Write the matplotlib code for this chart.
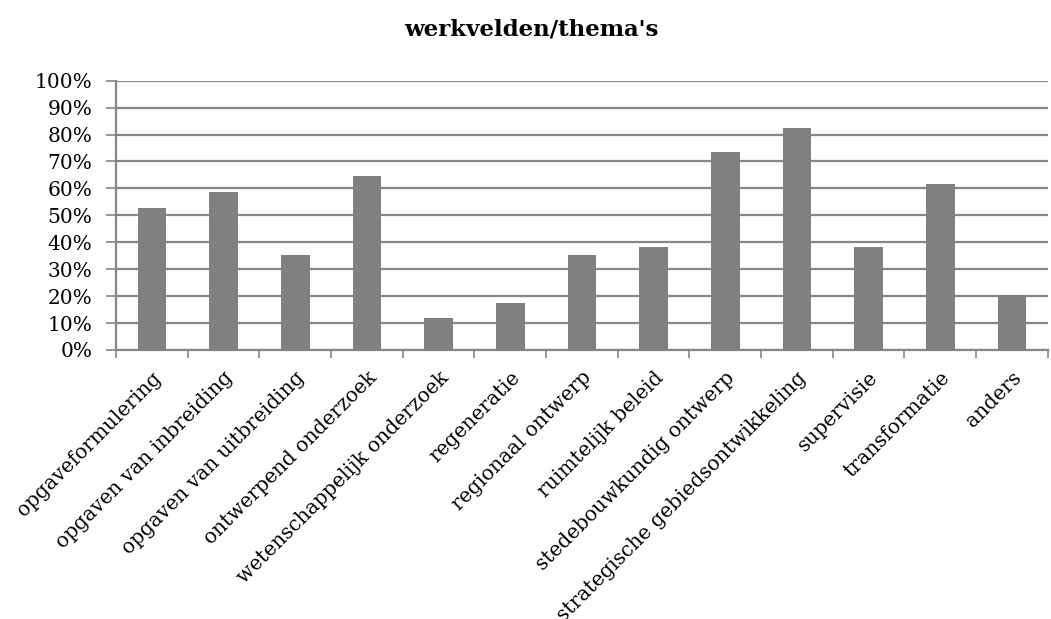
import matplotlib
matplotlib.use("Agg")
import matplotlib.pyplot as plt
import numpy as np

categories = ["opgaveformulering", "opgaven van inbreiding", "opgaven van uitbreiding",
              "ontwerpend onderzoek", "wetenschappelijk onderzoek", "regeneratie",
              "regionaal ontwerp", "ruimtelijk beleid", "stedebouwkundig ontwerp",
              "strategische gebiedsontwikkeling", "supervisie", "transformatie", "anders"]
values = [0.529, 0.588, 0.353, 0.647, 0.118, 0.176, 0.353, 0.382, 0.735, 0.824, 0.382, 0.618, 0.206]
yticks = np.arange(0, 1.01, 0.1)
ytick_labels = ["0%", "10%", "20%", "30%", "40%", "50%", "60%", "70%", "80%", "90%", "100%"]

plt.rcParams["font.family"] = ["DejaVu Serif"]

fig = plt.figure(figsize=(10.51, 6.19), dpi=100)
ax = fig.add_axes([0.1104, 0.4346, 0.8866, 0.435])

grey = "#878787"
x = np.arange(len(categories))
ax.bar(x, values, width=0.4, color="#808080", zorder=3)

ax.set_xlim(-0.5, len(categories) - 0.5)
ax.set_ylim(0, 1)
ax.set_yticks(yticks)
ax.set_yticklabels(ytick_labels, fontsize=14.5)
ax.yaxis.grid(True, color=grey, linewidth=1.6, zorder=0)
ax.set_axisbelow(True)

ax.set_xticks(x)
ax.set_xticklabels(categories, fontsize=14.5, rotation=45, ha="right", va="top",
                   rotation_mode="anchor")
ax.tick_params(axis="x", which="major", length=0, pad=13)
ax.set_xticks(np.arange(-0.5, len(categories), 1), minor=True)
ax.tick_params(axis="x", which="minor", length=6, width=1.2, color=grey, direction="out")
ax.tick_params(axis="y", length=7, width=1.2, color=grey, pad=10)

for side in ["top", "right"]:
    ax.spines[side].set_visible(False)
for side in ["left", "bottom"]:
    ax.spines[side].set_color(grey)
    ax.spines[side].set_linewidth(1.6)

fig.text(0.506, 0.953, "werkvelden/thema's", fontsize=16.5, fontweight="bold",
         ha="center", va="center")

fig.savefig("out.png", dpi=100)
